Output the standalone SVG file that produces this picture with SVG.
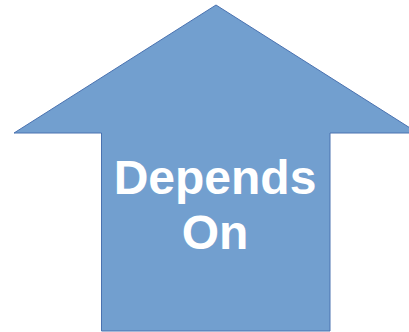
<svg xmlns="http://www.w3.org/2000/svg" width="409" height="332" viewBox="0 0 409 332">
<style>
.arrow{fill:#729fcf;stroke:#4a72b0;stroke-width:1}
.lbl{font-family:"Liberation Sans",Arial,sans-serif;font-weight:bold;font-size:48px;fill:#ffffff;text-anchor:middle}
</style>
<rect width="409" height="332" fill="#ffffff"/>
<g id="arrow">
<polygon class="arrow" points="216,5 418,133 330,133 330,331 101.5,331 101.5,133 14,133"/>
<text class="lbl" x="215" y="194">Depends</text>
<text class="lbl" x="215" y="249">On</text>
</g>
</svg>
